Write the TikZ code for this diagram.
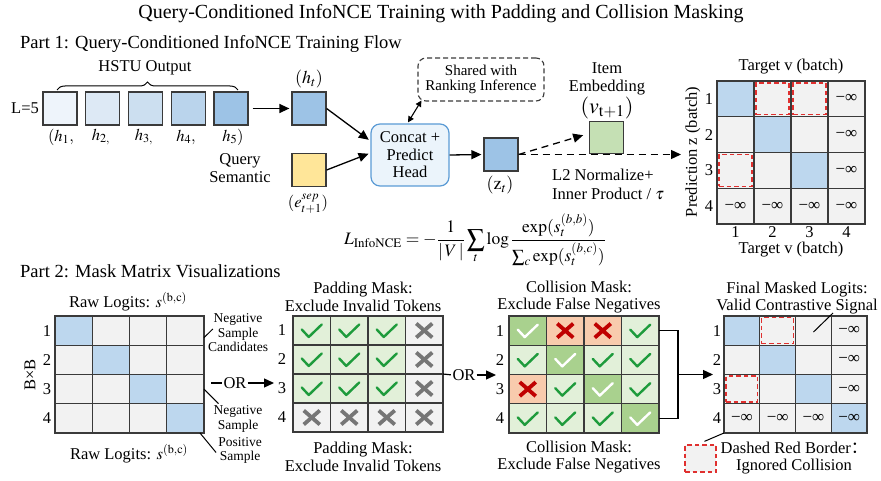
\documentclass[tikz,border=0pt]{standalone}
\usepackage{mathptmx}
\usepackage{fontspec}
\setmainfont{Liberation Serif}
\newfontfamily\cjk{Noto Sans CJK SC}
\usetikzlibrary{arrows.meta,decorations.pathreplacing,calc}
\definecolor{bord}{HTML}{3A3A3A}
\definecolor{cgry}{HTML}{F2F2F2}
\definecolor{cblu}{HTML}{BDD7EE}
\definecolor{lgrn}{HTML}{E2F0D9}
\definecolor{dgrn}{HTML}{A9D18E}
\definecolor{orng}{HTML}{F8CBAD}
\definecolor{chkg}{HTML}{1E9B3C}
\definecolor{xgry}{HTML}{767676}
\definecolor{xred}{HTML}{C00000}
\definecolor{rdc}{HTML}{E0302F}
\definecolor{hdf}{HTML}{EBF4FB}
\definecolor{hdb}{HTML}{5B9BD5}
\definecolor{bbox}{HTML}{9DC3E6}
\definecolor{ybox}{HTML}{FFE699}
\definecolor{gbox}{HTML}{C5E0B4}
\definecolor{hA}{HTML}{EEF4FB}
\definecolor{hB}{HTML}{DDE9F5}
\definecolor{hC}{HTML}{CCDFF0}
\definecolor{hD}{HTML}{BAD4EC}
\newcommand\mninf{{\fontsize{17}{17}\selectfont −∞}}
\tikzset{
  lab/.style={font=\fontsize{16.5}{18}\selectfont, inner sep=0, align=center},
  annot/.style={font=\fontsize{13.5}{14.5}\selectfont, inner sep=0, align=center},
  hbox/.style={draw=bord, line width=1.2pt, minimum width=34pt, minimum height=33pt, inner sep=0},
  mcell/.style={draw=bord, line width=1.3pt, inner sep=0, outer sep=0},
  rdash/.style={draw=rdc, line width=1.3pt, dash pattern=on 4.5pt off 3pt, inner sep=0},
  arrw/.style={line width=1.3pt, -{Triangle[length=10pt,width=9pt]}},
  dsh/.style={line width=1.3pt, dash pattern=on 7pt off 5pt},
  thin/.style={line width=1pt},
  chk/.pic={\draw[line width=2.4pt, line cap=round, line join=round] (-10,-1) -- (-3,6.5) -- (10,-6);},
  crs/.pic={\draw[line width=3.8pt] (-8,-7) -- (8,7) (-8,7) -- (8,-7);}
}
\begin{document}
\begin{tikzpicture}[x=1pt,y=-1pt]
\useasboundingbox (0,0) rectangle (881,481);
% titles
\node[font=\fontsize{20}{24}\selectfont, inner sep=0] (title) at (441,14) {Query-Conditioned InfoNCE Training with Padding and Collision Masking};
\node[font=\fontsize{18.5}{22}\selectfont, inner sep=0, anchor=west] (part1) at (20,44) {Part 1: Query-Conditioned InfoNCE Training Flow};
\node[font=\fontsize{18.5}{22}\selectfont, inner sep=0, anchor=west] (part2) at (20,271) {Part 2: Mask Matrix Visualizations};

% ---------- Part 1 ----------
\node[lab] (hstu) at (145,68) {HSTU Output};
\coordinate (brL) at (57,90);
\coordinate (brR) at (238,90);
\draw[line width=1pt, decorate, decoration={brace, amplitude=8pt}] (brL) -- (brR);
\node[lab] (L5) at (25,108) {L=5};
\node[hbox, fill=hA] (h1) at (60,108.5) {};
\node[hbox, fill=hB] (h2) at (102.75,108.5) {};
\node[hbox, fill=hC] (h3) at (145.5,108.5) {};
\node[hbox, fill=hD] (h4) at (188.25,108.5) {};
\node[hbox, fill=bbox] (h5) at (231,108.5) {};
\node[lab] (lh1) at (61,137) {$(h_1,$};
\node[lab] (lh2) at (101,137) {$h_{2,}$};
\node[lab] (lh3) at (144,137) {$h_{3,}$};
\node[lab] (lh4) at (186,137) {$h_4,$};
\node[lab] (lh5) at (233,137) {$h_5)$};

\node[hbox, fill=bbox] (ht) at (309,108.5) {};
\node[lab, font=\fontsize{18}{20}\selectfont] (lht) at (309,79) {$(h_t)$};
\node[hbox, fill=ybox] (qs) at (309,170) {};
\node[lab] (lqs) at (240,168) {Query\\Semantic};
\node[lab] (lqe) at (308,204) {$(e^{sep}_{t+1})$};

\node[draw=hdb, fill=hdf, line width=1.2pt, rounded corners=9pt, minimum width=78pt, minimum height=62pt, inner sep=0, align=center, font=\fontsize{16.5}{17.5}\selectfont] (head) at (410,155) {Concat +\\Predict\\Head};
\node[draw=bord, line width=1.1pt, dash pattern=on 5pt off 3pt, rounded corners=8pt, minimum width=126pt, minimum height=43pt, inner sep=0, align=center, font=\fontsize{15}{15}\selectfont] (shared) at (481,79.5) {Shared with\\Ranking Inference};

\node[hbox, fill=bbox] (zt) at (501,154.5) {};
\node[lab, font=\fontsize{18}{20}\selectfont] (lzt) at (500,185) {$(\mathrm{z}_t)$};

\node[hbox, fill=gbox, minimum height=32pt] (item) at (606.5,137.5) {};
\node[lab] (litem) at (607,79) {Item\\Embedding};
\node[lab, font=\fontsize{22}{24}\selectfont] (lv) at (607,108) {$(v_{\mathrm{t+1}})$};
\node[lab, align=left, anchor=west, font=\fontsize{16.5}{19}\selectfont] (l2) at (552,184.5) {L2 Normalize+\\Inner Product / $\tau$};

\draw[arrw, shorten <=4pt, shorten >=2pt] (h5) -- (ht);
\draw[arrw, shorten >=2pt] (ht.east) -- ($(head.west)+(0,-14)$);
\draw[arrw, shorten >=2pt] (qs.east) -- ($(head.west)+(0,-2)$);
\draw[line width=1.1pt, {Triangle[length=6pt,width=6pt]}-{Triangle[length=6pt,width=6pt]}] ($(head.north)+(-2,-1)$) -- ($(shared.south west)+(4,-1)$);
\draw[arrw, shorten >=2pt] (head.east) -- (zt.west);
\draw[dsh, -{Triangle[length=10pt,width=9pt]}, shorten >=6pt] (zt.east) -- ($(item.west)+(0,-4)$);
\coordinate (mtgt) at (681,154.5);
\draw[dsh, -{Triangle[length=10pt,width=9pt]}] (zt.east) -- (mtgt);

% formula
\node[font=\fontsize{17.5}{19}\selectfont, inner sep=0] (loss) at (475,240) {$\displaystyle L_{\mathrm{InfoNCE}}=-\frac{1}{|\,V\,|}\sum_t\log\frac{\exp(s_t^{(b,b)})}{\sum_c\exp(s_t^{(b,c)})}$};

% top-right matrix
\foreach \r/\c/\f/\t in {1/1/cblu/{},1/2/cgry/{},1/3/cgry/{},1/4/cgry/\mninf,
  2/1/cgry/{},2/2/cblu/{},2/3/cgry/{},2/4/cgry/\mninf,
  3/1/cgry/{},3/2/cgry/{},3/3/cblu/{},3/4/cgry/\mninf,
  4/1/cgry/\mninf,4/2/cgry/\mninf,4/3/cgry/\mninf,4/4/cgry/\mninf}
  \node[mcell, fill=\f, minimum width=37pt, minimum height=35.75pt] (M-\r-\c) at ({717+(\c-0.5)*37},{81+(\r-0.5)*35.75}) {\t};
\foreach \a in {M-1-2,M-1-3,M-3-1}
  \node[rdash, minimum width=33pt, minimum height=31.75pt] at (\a) {};
\foreach \i in {1,...,4} {
  \node[lab] (Mr\i) at (709,{81+(\i-0.5)*35.75}) {\i};
  \node[lab] (Mc\i) at ({717+(\i-0.5)*37},232) {\i};
}
\node[lab] (Mtop) at (791,67) {Target v (batch)};
\node[lab] (Mbot) at (791,250) {Target v (batch)};
\node[lab, rotate=90] (Mside) at (693,152) {Prediction z (batch)};

% ---------- Part 2 ----------
% raw logits
\foreach \r in {1,...,4} \foreach \c in {1,...,4} {
  \ifnum\r=\c \def\f{cblu}\else\def\f{cgry}\fi
  \node[mcell, fill=\f, minimum width=37.25pt, minimum height=29.25pt] (R-\r-\c) at ({55+(\c-0.5)*37.25},{316+(\r-0.5)*29.25}) {};
}
\foreach \i in {1,...,4} \node[lab] (Rr\i) at (47,{316+(\i-0.5)*29.25}) {\i};
\node[lab] (Rtop) at (128,302) {Raw Logits: $s^{\mathrm{(b,c)}}$};
\node[lab] (Rbot) at (129,454) {Raw Logits: $s^{\mathrm{(b,c)}}$};
\node[lab, rotate=90] (RBB) at (30,375) {B×B};
\node[annot] (nsc) at (238,333) {Negative\\Sample\\Candidates};
\node[annot] (ns) at (238,419) {Negative\\Sample};
\node[annot] (ps) at (240,450.5) {Positive\\Sample};
\draw[thin] ($(R-1-4.east)+(0,7)$) -- ($(nsc.west)+(5,-4)$);
\draw[thin] (R-3-4.east) -- ($(ns.north west)+(5,-2)$);
\draw[thin] ($(R-4-4.south east)+(-4,0)$) -- ($(ps.west)+(-2,2)$);

% OR 1
\node[lab] (or1) at (235,383) {OR};
\coordinate (or1s) at (211,383);
\coordinate (or1e) at (274,383);
\draw[line width=1.2pt, shorten >=1.5pt] (or1s) -- (or1.west);
\draw[arrw, shorten <=1pt] (or1.east) -- (or1e);

% padding mask
\foreach \r in {1,...,4} \foreach \c in {1,...,4} {
  \ifnum\r<4 \ifnum\c<4 \def\f{lgrn}\else\def\f{cgry}\fi\else\def\f{cgry}\fi
  \node[mcell, fill=\f, minimum width=37.5pt, minimum height=29pt] (P-\r-\c) at ({293+(\c-0.5)*37.5},{316+(\r-0.5)*29}) {};
}
\foreach \r/\c in {1/1,1/2,1/3,2/1,2/2,2/3,3/1,3/2,3/3}
  \pic[color=chkg] at (P-\r-\c) {chk};
\foreach \r/\c in {1/4,2/4,3/4,4/1,4/2,4/3,4/4}
  \pic[color=xgry] at (P-\r-\c) {crs};
\foreach \i in {1,...,4} \node[lab] (Pr\i) at (282,{316+(\i-0.5)*29}) {\i};
\node[lab, font=\fontsize{16.5}{17.5}\selectfont] (Ptop) at (363,297) {Padding Mask:\\Exclude Invalid Tokens};
\node[lab, font=\fontsize{16.5}{17.5}\selectfont] (Pbot) at (363,457) {Padding Mask:\\Exclude Invalid Tokens};

% OR 2
\node[lab] (or2) at (464,375) {OR};
\coordinate (or2e) at (496,375);
\draw[line width=1.2pt, shorten >=1.5pt] (P-2-4.south east) -- (or2.west);
\draw[arrw, shorten <=1pt] (or2.east) -- (or2e);

% collision mask
\foreach \r/\c/\f in {1/1/dgrn,1/2/orng,1/3/orng,1/4/lgrn,2/1/lgrn,2/2/dgrn,2/3/lgrn,2/4/lgrn,
  3/1/orng,3/2/lgrn,3/3/dgrn,3/4/lgrn,4/1/lgrn,4/2/lgrn,4/3/lgrn,4/4/dgrn}
  \node[mcell, fill=\f, minimum width=37.5pt, minimum height=29.25pt] (C-\r-\c) at ({509+(\c-0.5)*37.5},{316+(\r-0.5)*29.25}) {};
\foreach \r/\c in {1/1,2/2,3/3,4/4} \pic[color=white] at (C-\r-\c) {chk};
\foreach \r/\c in {1/2,1/3,3/1} \pic[color=xred] at (C-\r-\c) {crs};
\foreach \r/\c in {1/4,2/1,2/3,2/4,3/2,3/4,4/1,4/2,4/3} \pic[color=chkg] at (C-\r-\c) {chk};
\foreach \i in {1,...,4} \node[lab] (Cr\i) at (500,{316+(\i-0.5)*29.25}) {\i};
\node[lab, font=\fontsize{16.5}{17.5}\selectfont] (Ctop) at (579,297) {Collision Mask:\\Exclude False Negatives};
\node[lab, font=\fontsize{16.5}{17.5}\selectfont] (Cbot) at (579,457) {Collision Mask:\\Exclude False Negatives};

% bracket connector
\draw[line width=1.2pt] (C-1-4.east) -- ++(19,0) |- (C-4-4.east);
\coordinate (bm) at (678,374.5);
\coordinate (fin) at (713,374.5);
\draw[arrw] (bm) -- (fin);

% final masked logits
\foreach \r/\c/\f/\t in {1/1/cblu/{},1/2/cgry/{},1/3/cgry/{},1/4/cgry/\mninf,
  2/1/cgry/{},2/2/cblu/{},2/3/cgry/{},2/4/cgry/\mninf,
  3/1/cgry/{},3/2/cgry/{},3/3/cblu/{},3/4/cgry/\mninf,
  4/1/cgry/\mninf,4/2/cgry/\mninf,4/3/cgry/\mninf,4/4/cblu/\mninf}
  \node[mcell, fill=\f, minimum width=35.75pt, minimum height=29.25pt] (F-\r-\c) at ({724+(\c-0.5)*35.75},{316+(\r-0.5)*29.25}) {\t};
\foreach \a in {F-1-2,F-3-1}
  \node[rdash, minimum width=31.75pt, minimum height=26pt] at (\a) {};
\foreach \i in {1,...,4} \node[lab] (Fr\i) at (717,{316+(\i-0.5)*29.25}) {\i};
\node[lab, font=\fontsize{16.5}{17.5}\selectfont] (Ftop) at (797,298) {Final Masked Logits:\\Valid Contrastive Signal};
\coordinate (fl) at (833,313);
\draw[thin] (fl) -- ($(F-1-3.center)+(0,1.5)$);
\node[rdash, fill=cgry, minimum width=31pt, minimum height=27pt] (leg) at (700.5,458.5) {};
\draw[thin] ($(leg.north)+(4,-3)$) -- (F-4-1.south west);
\node[lab, font=\fontsize{16.5}{17}\selectfont] (legt) at (794,458) {Dashed Red Border{\cjk ：}\\Ignored Collision};
\end{tikzpicture}
\end{document}
